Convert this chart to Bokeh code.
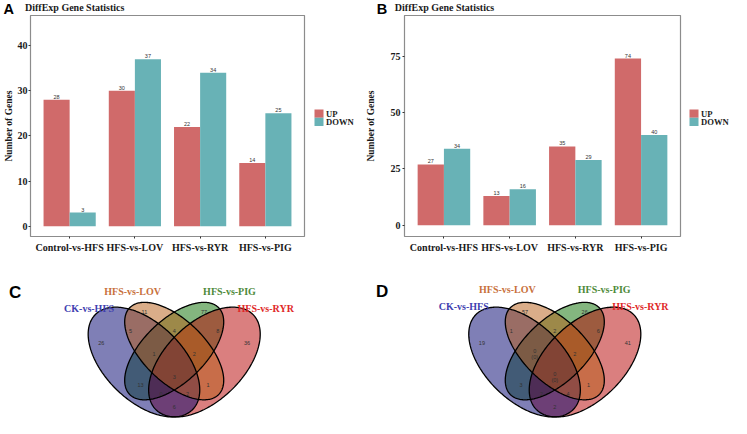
import numpy as np
from bokeh.plotting import figure
from bokeh.layouts import column, row
from bokeh.models import Range1d, FixedTicker, ColumnDataSource
from bokeh.embed import file_html
from bokeh.resources import INLINE
from bokeh.core.properties import value

# ---------------- data ----------------
categories = ["Control-vs-HFS", "HFS-vs-LOV", "HFS-vs-RYR", "HFS-vs-PIG"]
up_A = [28, 30, 22, 14]
down_A = [3, 37, 34, 25]
up_B = [27, 13, 35, 74]
down_B = [34, 16, 29, 40]
ticks_A = [0, 10, 20, 30, 40]
ticks_B = [0, 25, 50, 75]
series = ["UP", "DOWN"]
chart_title = "DiffExp Gene Statistics"

set_names = ["CK-vs-HFS", "HFS-vs-LOV", "HFS-vs-PIG", "HFS-vs-RYR"]
# regions: CK, LOV, PIG, RYR only; CK&LOV; LOV&PIG; PIG&RYR; CK&LOV&PIG; LOV&PIG&RYR;
#          all four; CK&PIG; LOV&RYR; CK&PIG&RYR; CK&LOV&RYR; CK&RYR
venn_C = ["26", "11", "77", "36", "5", "4", "8", "1", "2", "3", "13", "1", "0", "2", "6"]
venn_D = ["19", "57", "26", "41", "1", "2", "6", "0\n(0)", "2", "0\n(0)", "3", "1", "2", "4", "2"]

# ---------------- styling / layout ----------------
UP_COL = "#D06A6A"
DOWN_COL = "#68B2B6"
SERIF = "Liberation Serif"
SANS = "Liberation Sans"
sX = 731 / 747
sY = 418 / 434
W1 = 362
W2 = 731 - W1
HH = 15            # header strip
HB = 240           # bar figure height
H2 = 418 - HH - HB

# Venn ellipses, reference-pixel geometry (centre, semi-axes, screen angle)
ell_cx = [146.6, 177.5, 177.5, 208.4]
ell_cy = [375.4, 364.0, 364.0, 375.4]
ell_a = [70, 64, 64, 70]
ell_b = [40, 32, 32, 40]
ell_ang = [45, 45, -45, -45]
ell_fill = ["#00006E", "#B65B13", "#096E00", "#B60000"]
ell_text = ["#4040B0", "#C8703C", "#4E8A3A", "#E02828"]
draw_order = [2, 3, 0, 1]
reg_x = [103, 147, 208, 252, 133, 177.5, 222, 157, 198, 177.5, 143, 212, 164, 191, 177.5]
reg_y = [356, 323, 323, 356, 343, 343, 343, 367, 367, 391, 399, 399, 409, 409, 422]
name_x = [90.5, 135, 234, 271]
name_y = [320, 302, 302, 320]


def blank(width, height, xr, yr):
    p = figure(width=width, height=height, x_range=xr, y_range=yr,
               output_backend="svg", toolbar_location=None,
               x_axis_location=None, y_axis_location=None,
               min_border_left=0, min_border_right=0, min_border_top=0, min_border_bottom=0)
    p.outline_line_color = None
    p.xgrid.visible = False
    p.ygrid.visible = False
    return p


def header(width, letter, letter_x, title_x):
    p = blank(width, HH, Range1d(0, width), Range1d(HH, 0))
    p.text(x=[letter_x], y=[8], text=[letter], text_align="center", text_baseline="middle",
           text_font=value(SANS), text_font_style="bold", text_font_size="14.5px", text_color="black")
    p.text(x=[title_x], y=[7], text=[chart_title], text_align="left", text_baseline="middle",
           text_font=value(SERIF), text_font_style="bold", text_font_size="10px", text_color="#1a1a1a")
    return p


def legend_fig(width, x0, yc):
    p = blank(width, HB, Range1d(0, width), Range1d(HB, 0))
    tops = [yc - 9, yc]
    p.quad(left=[x0, x0], right=[x0 + 9, x0 + 9], top=tops, bottom=[t + 9 for t in tops],
           fill_color=[UP_COL, DOWN_COL], line_color=None)
    p.text(x=[x0 + 11.5, x0 + 11.5], y=[t + 4.8 for t in tops], text=series, text_align="left",
           text_baseline="middle", text_font=value(SERIF), text_font_style="bold",
           text_font_size="8.6px", text_color="#1a1a1a")
    return p


def bar_panel(up, down, ticks, ymin, ymax, width, frame_l, frame_r, label_standoff, tick_standoff):
    p = figure(width=width, height=HB, x_range=Range1d(0.4, 4.6), y_range=Range1d(ymin, ymax),
               output_backend="svg", toolbar_location=None,
               min_border_left=frame_l, min_border_right=width - frame_r,
               min_border_top=0, min_border_bottom=19)
    idx = np.arange(1, len(categories) + 1)
    src = ColumnDataSource(dict(x_up=idx - 0.2, x_dn=idx + 0.2, up=up, down=down,
                                up_t=[str(v) for v in up], dn_t=[str(v) for v in down]))
    p.vbar(x="x_up", top="up", bottom=0, width=0.4, source=src, fill_color=UP_COL, line_color=None)
    p.vbar(x="x_dn", top="down", bottom=0, width=0.4, source=src, fill_color=DOWN_COL, line_color=None)
    for xc, yc, tc in (("x_up", "up", "up_t"), ("x_dn", "down", "dn_t")):
        p.text(x=xc, y=yc, text=tc, source=src,
               text_align="center", text_baseline="bottom", y_offset=-1,
               text_font=value(SANS), text_font_size="5.5px", text_color="#333333")
    p.xgrid.visible = False
    p.ygrid.visible = False
    p.outline_line_color = "#8c8c8c"
    p.outline_line_width = 1.2
    p.xaxis.ticker = FixedTicker(ticks=[float(i) for i in idx])
    p.xaxis.major_label_overrides = {float(i): c for i, c in zip(idx, categories)}
    p.yaxis.ticker = FixedTicker(ticks=ticks)
    p.yaxis.axis_label = "Number of Genes"
    for ax in (p.xaxis[0], p.yaxis[0]):
        ax.axis_line_color = None
        ax.major_tick_line_color = "#333333"
        ax.major_tick_in = 0
        ax.major_tick_out = 2
        ax.minor_tick_line_color = None
        ax.major_label_text_font = SERIF
        ax.major_label_text_font_style = "bold"
        ax.major_label_text_font_size = "10px"
        ax.major_label_text_color = "#1a1a1a"
        ax.axis_label_text_font = SERIF
        ax.axis_label_text_font_style = "bold"
        ax.axis_label_text_font_size = "9.5px"
        ax.axis_label_text_color = "#1a1a1a"
    p.yaxis.axis_label_standoff = label_standoff
    p.yaxis.major_label_standoff = tick_standoff
    p.xaxis.major_label_standoff = 3
    return p


def venn_panel(counts, width, dx, name_dx, name_dy, letter, letter_x, letter_y):
    wref = width / sX
    href = H2 / sY
    p = blank(width, H2, Range1d(0, wref), Range1d(href, 0))
    y0 = 434 - href   # reference y at top of this panel
    t = np.linspace(0, 2 * np.pi, 240)
    shapes = []
    for k in range(4):
        ph = np.deg2rad(ell_ang[k])
        X = ell_cx[k] + ell_a[k] * np.cos(t) * np.cos(ph) - ell_b[k] * np.sin(t) * np.sin(ph)
        Y = ell_cy[k] + ell_a[k] * np.cos(t) * np.sin(ph) + ell_b[k] * np.sin(t) * np.cos(ph)
        shapes.append((X + dx, Y - y0))
    for k in draw_order:
        p.patch(shapes[k][0], shapes[k][1], fill_color=ell_fill[k], fill_alpha=0.5, line_color=None)
    for k in range(4):
        p.patch(shapes[k][0], shapes[k][1], fill_color=None, line_color="black", line_width=1.3)
    src = ColumnDataSource(dict(x=np.array(reg_x) + dx, y=np.array(reg_y) - y0, t=counts))
    p.text(x="x", y="y", text="t", source=src, text_align="center", text_baseline="middle",
           text_font=value(SANS), text_font_size="5.5px", text_color="#333333", text_line_height=1.0)
    nsrc = ColumnDataSource(dict(x=np.array(name_x) + dx + name_dx,
                                 y=np.array(name_y) - y0 + name_dy, t=set_names, c=ell_text))
    p.text(x="x", y="y", text="t", source=nsrc, text_color="c", text_align="center",
           text_baseline="middle", text_font=value(SERIF), text_font_style="bold", text_font_size="10px")
    p.text(x=[letter_x], y=[letter_y - y0], text=[letter], text_align="center", text_baseline="middle",
           text_font=value(SANS), text_font_style="bold", text_font_size="17px", text_color="black")
    return p


hA = header(W1, "A", 8.3, 24.5)
hB = header(W2, "B", 19.6, 32.3)
pA = bar_panel(up_A, down_A, ticks_A, -2.3, 46.7, 306, 26, 304, 1, 1)
lA = legend_fig(W1 - 306, 8, 111)
pB = bar_panel(up_B, down_B, ticks_B, -5.0, 93.1, 320, 39, 318, 12, 2)
lB = legend_fig(W2 - 320, 7, 111)
pC = venn_panel(venn_C, W1, 0, 0, 0, "C", 15, 303)
pD = venn_panel(venn_D, W2, 19, -6, -2, "D", 20, 302)

layout = column(row(column(hA, row(pA, lA)), column(hB, row(pB, lB))), row(pC, pD))
open("out.html", "w").write(file_html(layout, INLINE))
